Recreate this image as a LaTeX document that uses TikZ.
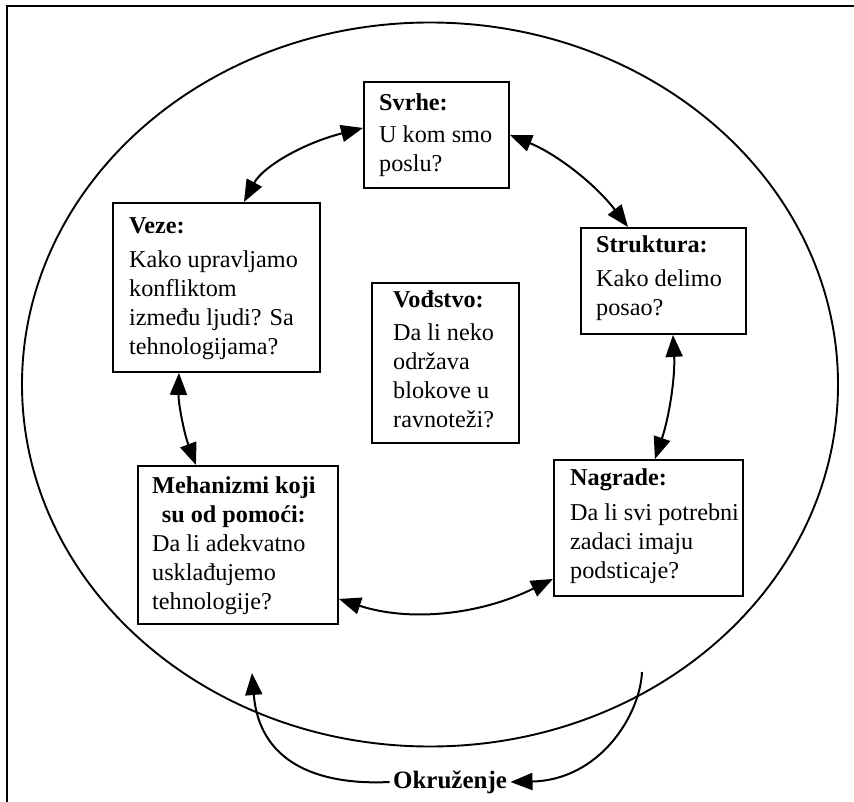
\documentclass[tikz,border=0pt]{standalone}
\usepackage{fontspec}
\setmainfont{Liberation Serif}
\usetikzlibrary{arrows.meta}
\begin{document}
\begin{tikzpicture}[x=1pt,y=-1pt,
  box/.style={draw, line width=1.9pt, anchor=north west, inner sep=0pt},
  txt/.style={font=\fontsize{24.2}{29}\selectfont, align=left, inner sep=0pt, anchor=north west},
  link/.style={line width=2pt, {Triangle[length=22pt,width=17pt]}-{Triangle[length=22pt,width=17pt]}},
  envlink/.style={line width=2pt, -{Triangle[length=22pt,width=17pt]}}]
\useasboundingbox (0,0) rectangle (854,802);

% frame
\draw[line width=2.4pt] (7,802) -- (7,6) -- (854,6);

% environment boundary
\draw[line width=1.9pt] (430,384.5) ellipse [x radius=408, y radius=362];

% boxes
\node[box, minimum width=145pt, minimum height=106pt] (svrhe) at (363,81) {};
\node[box, minimum width=207pt, minimum height=169pt] (veze) at (112,202) {};
\node[box, minimum width=165pt, minimum height=106pt] (struktura) at (580,227) {};
\node[box, minimum width=147pt, minimum height=160pt] (vodstvo) at (371,282) {};
\node[box, minimum width=189pt, minimum height=136pt] (nagrade) at (553,459) {};
\node[box, minimum width=200pt, minimum height=158pt] (meh) at (137,465) {};

% texts
\node[txt] (svrheT) at (379,89.7) {\strut\textbf{Svrhe:}\\[3pt]U kom smo\\poslu?};
\node[txt] (vezeT) at (129,212.7) {\strut\textbf{Veze:}\\[5pt]Kako upravljamo\\konfliktom\\između ljudi? Sa\\tehnologijama?};
\node[txt] (strukturaT) at (596,231.7) {\strut\textbf{Struktura:}\\[5pt]Kako delimo\\posao?};
\node[txt] (vodstvoT) at (393,286.7) {\strut\textbf{Vođstvo:}\\[4pt]Da li neko\\održava\\blokove u\\ravnoteži?};
\node[txt] (nagradeT) at (570,465) {\strut\textbf{Nagrade:}\\[6pt]Da li svi potrebni\\zadaci imaju\\podsticaje?};
\node[txt] (mehT) at (152,472.7) {\begin{tabular}{@{}l@{}}
  \multicolumn{1}{@{}c@{}}{\textbf{Mehanizmi koji}}\\
  \multicolumn{1}{@{}c@{}}{\textbf{su od pomoći:}}\\
  Da li adekvatno\\
  usklađujemo\\
  tehnologije?
\end{tabular}};

% links between the blocks
\draw[link] ([yshift=7pt]svrhe.west) .. controls (301.7,143.7) and (262.7,167) .. ([xshift=27.5pt]veze.north);
\draw[link] (svrhe.east) .. controls (557.1,154.3) and (595.5,184.3) .. ([xshift=-35.5pt]struktura.north);
\draw[link] ([xshift=9.5pt]struktura.south) .. controls (675.3,376.7) and (669.3,416.7) .. ([xshift=6.5pt]nagrade.north);
\draw[link] ([yshift=-51pt]nagrade.west) .. controls (479,615.3) and (409,622) .. ([yshift=-54pt]meh.east);
\draw[link] ([xshift=-37.5pt]veze.south) .. controls (178.3,403.3) and (184,433) .. ([xshift=-42pt]meh.north);

% environment
\node[font=\fontsize{25}{29}\selectfont\bfseries] (okr) at (450,782) {Okruženje};
\coordinate (envL) at (252,673);
\coordinate (envR) at (642,672);
\draw[envlink] (okr.west) .. controls (330,785) and (260,770) .. (envL);
\draw[envlink] (envR) .. controls (640,715) and (600,780) .. (okr.east);
\end{tikzpicture}
\end{document}
